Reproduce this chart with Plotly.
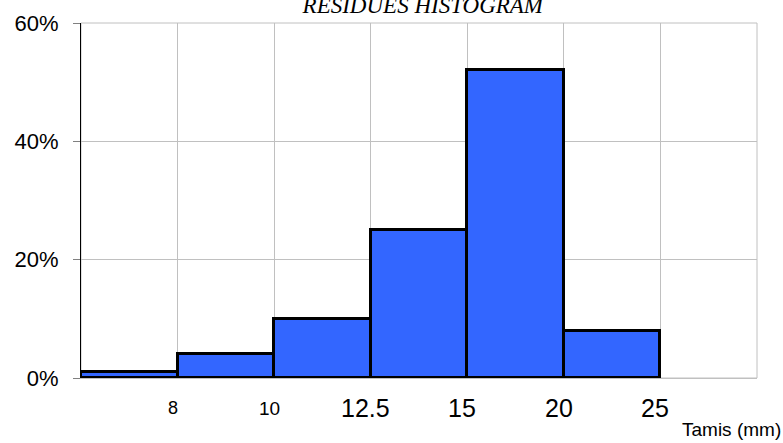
import plotly.graph_objects as go

# Data
bin_index = [0.5, 1.5, 2.5, 3.5, 4.5, 5.5]
residues_pct = [0.01, 0.04, 0.10, 0.25, 0.52, 0.08]
boundary_pos = [1, 2, 3, 4, 5, 6]
boundary_labels = ["8", "10", "12.5", "15", "20", "25"]
label_sizes = [18, 19, 25, 25, 25, 25]

fig = go.Figure()
fig.add_trace(go.Bar(
    x=bin_index, y=residues_pct, width=1,
    marker=dict(color="#3366ff", line=dict(color="black", width=3)),
    hoverinfo="y",
))

for pos, lab, sz in zip(boundary_pos, boundary_labels, label_sizes):
    fig.add_annotation(x=pos, y=0, xref="x", yref="paper", text=lab, showarrow=False,
                       xanchor="center", yanchor="middle", yshift=-30, xshift=-5,
                       font=dict(family="Arial, Liberation Sans", size=sz, color="black"))

fig.add_annotation(x=1.0385, y=-0.1437, xref="paper", yref="paper", text="Tamis (mm)",
                   showarrow=False, xanchor="right", yanchor="middle",
                   font=dict(family="Arial, Liberation Sans", size=19, color="black"))

# plot border (gray)
fig.add_shape(type="rect", xref="paper", yref="paper", x0=0, x1=1, y0=0, y1=1,
              line=dict(color="#c0c0c0", width=1), layer="below")

fig.update_layout(
    width=783, height=443,
    margin=dict(l=81, r=26, t=23, b=65),
    paper_bgcolor="white", plot_bgcolor="white",
    showlegend=False,
    bargap=0,
    title=dict(text="RESIDUES HISTOGRAM", x=0.54, xanchor="center", y=0.988, yanchor="middle",
               yref="container",
               font=dict(family="Times New Roman, Liberation Serif", size=23, color="black", style="italic")),
    xaxis=dict(range=[0, 7], tickvals=boundary_pos, showticklabels=False, showgrid=True,
               gridcolor="#c0c0c0", gridwidth=1, showline=True, linecolor="#c0c0c0",
               ticks="", zeroline=False, fixedrange=True),
    yaxis=dict(range=[0, 0.6], tickvals=[0, 0.2, 0.4, 0.6], tickformat=".0%",
               showgrid=True, gridcolor="#c0c0c0", gridwidth=1,
               showline=True, linecolor="black", linewidth=1,
               ticks="outside", ticklen=7, tickcolor="#808080",
               ticklabelstandoff=10, zeroline=False,
               tickfont=dict(family="Arial, Liberation Sans", size=22, color="black")),
)

fig.write_html("out.html", config={"displayModeBar": False},
               post_script="document.body.style.margin='0px';document.body.style.overflow='hidden';")
